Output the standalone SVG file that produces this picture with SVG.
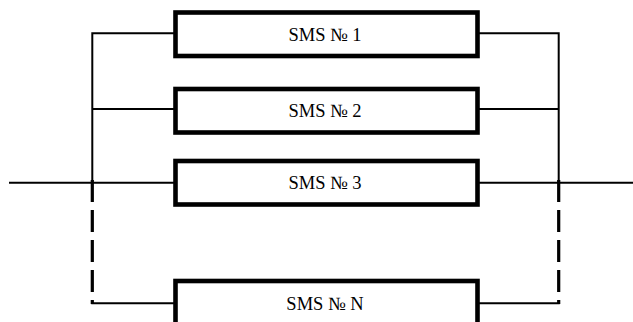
<svg xmlns="http://www.w3.org/2000/svg" width="633" height="322" viewBox="0 0 633 322">
  <style>
    .box { fill: #ffffff; stroke: #000000; stroke-width: 4.6; }
    .lbl { font-family: "Liberation Serif", "Times New Roman", serif; font-size: 18.5px; fill: #000000; text-anchor: middle; }
    .wire { fill: none; stroke: #000000; stroke-width: 2; }
    .dash { fill: none; stroke: #000000; stroke-width: 3.2; stroke-dasharray: 22 8; }
  </style>
  <rect width="633" height="322" fill="#ffffff"/>

  <!-- connectors: input and output buses -->
  <g id="connectors">
    <!-- main line -->
    <line class="wire" x1="9" y1="182.7" x2="175.5" y2="182.7"/>
    <line class="wire" x1="477.5" y1="182.7" x2="633" y2="182.7"/>
    <!-- left bus -->
    <polyline class="wire" points="175.5,33.3 92.3,33.3 92.3,183.5"/>
    <line class="wire" x1="92.3" y1="109" x2="175.5" y2="109"/>
    <line class="dash" x1="92.3" y1="180" x2="92.3" y2="304"/>
    <line class="wire" x1="91.3" y1="303.3" x2="175.5" y2="303.3"/>
    <!-- right bus -->
    <polyline class="wire" points="477.5,33.3 558.7,33.3 558.7,183.5"/>
    <line class="wire" x1="477.5" y1="109" x2="558.7" y2="109"/>
    <line class="dash" x1="558.7" y1="180" x2="558.7" y2="304"/>
    <line class="wire" x1="477.5" y1="303.3" x2="559.7" y2="303.3"/>
  </g>

  <g id="sms1">
    <rect class="box" x="175.5" y="12.5" width="302" height="43.5"/>
    <text class="lbl" x="325" y="40.5">SMS № 1</text>
  </g>
  <g id="sms2">
    <rect class="box" x="175.5" y="89" width="302" height="43.5"/>
    <text class="lbl" x="325" y="117">SMS № 2</text>
  </g>
  <g id="sms3">
    <rect class="box" x="175.5" y="161" width="302" height="43.5"/>
    <text class="lbl" x="325" y="189">SMS № 3</text>
  </g>
  <g id="smsN">
    <rect class="box" x="175.5" y="281" width="302" height="43.5"/>
    <text class="lbl" x="325" y="310">SMS № N</text>
  </g>
</svg>
